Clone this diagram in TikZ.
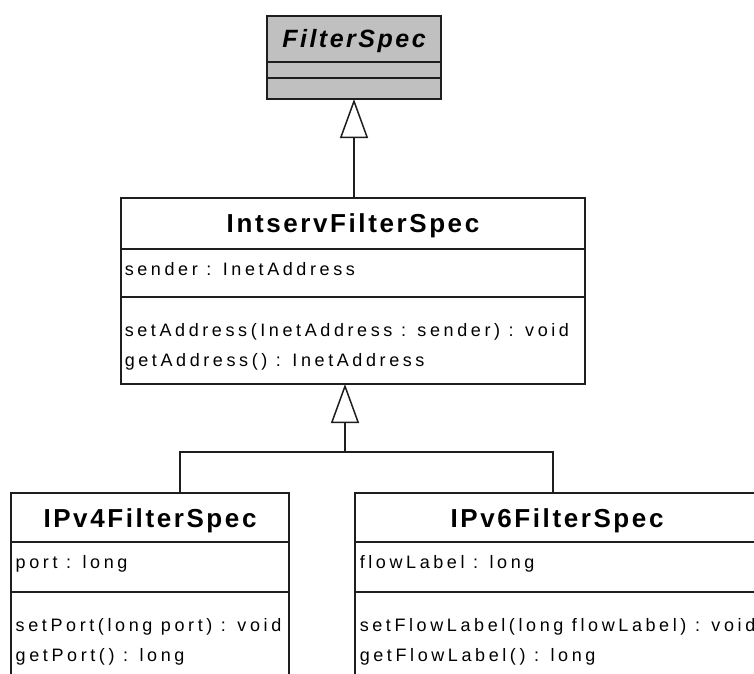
\documentclass[tikz,border=0pt]{standalone}
\usepackage{fontspec}
\setmainfont{Liberation Sans}
\newfontfamily\headfont[LetterSpace=10]{Liberation Sans}
\newfontfamily\bodyfont[LetterSpace=20]{Liberation Sans}
\usetikzlibrary{arrows.meta,calc}
\definecolor{linecol}{HTML}{1E1E1E}
\definecolor{abstractfill}{HTML}{C0C0C0}

\begin{document}
\begin{tikzpicture}[x=1pt,y=-1pt,
  line width=1.5pt,
  classbox/.style={draw=linecol, rectangle, anchor=north west, inner sep=0pt, outer sep=0pt, fill=white},
  classtitle/.style={font=\headfont\bfseries\fontsize{26}{30}\selectfont, anchor=base, inner sep=0pt},
  abstracttitle/.style={font=\headfont\bfseries\itshape\fontsize{25}{30}\selectfont, anchor=base, inner sep=0pt},
  member/.style={font=\bodyfont\fontsize{18}{21}\selectfont, anchor=base west, inner sep=0pt},
  inherit/.style={draw=linecol, -{Triangle[open, length=39pt, width=28pt, fill=white]}},
]
\useasboundingbox (0,0) rectangle (754,673);
\clip (0,0) rectangle (754,673);
\fill[white] (0,0) rectangle (754,673);

% abstract base class
\node[classbox, fill=abstractfill, minimum width=174pt, minimum height=83pt] (filter) at (267,16) {};
\draw[linecol] (267,62) -- (441,62) (267,78) -- (441,78);
\node[abstracttitle] (filtername) at (354,47) {FilterSpec};

% IntservFilterSpec
\node[classbox, minimum width=464pt, minimum height=186pt] (intserv) at (121,198) {};
\draw[linecol] (121,249) -- (585,249) (121,297) -- (585,297);
\node[classtitle] (intservname) at (353,232) {IntservFilterSpec};
\node[member] (intserva) at (124,275) {sender : InetAddress};
\node[member] (intservm1) at (124,336) {setAddress(InetAddress : sender) : void};
\node[member] (intservm2) at (124,366) {getAddress() : InetAddress};

% IPv4FilterSpec
\node[classbox, minimum width=278pt, minimum height=230pt] (ipv4) at (11,493) {};
\draw[linecol] (11,542) -- (289,542) (11,592) -- (289,592);
\node[classtitle] (ipv4name) at (150,527) {IPv4FilterSpec};
\node[member] (ipv4a) at (15,568) {port : long};
\node[member] (ipv4m1) at (15,631) {setPort(long port) : void};
\node[member] (ipv4m2) at (15,661) {getPort() : long};

% IPv6FilterSpec
\node[classbox, minimum width=405pt, minimum height=230pt] (ipv6) at (355,493) {};
\draw[linecol] (355,542) -- (760,542) (355,592) -- (760,592);
\node[classtitle] (ipv6name) at (557,527) {IPv6FilterSpec};
\node[member] (ipv6a) at (359,568) {flowLabel : long};
\node[member] (ipv6m1) at (359,631) {setFlowLabel(long flowLabel) : void};
\node[member] (ipv6m2) at (359,661) {getFlowLabel() : long};

% generalisation arrows
\draw[inherit] (filter.south |- intserv.north) -- (filter.south);
\coordinate (bus) at (345,452);
\coordinate (bus4) at (180,452);
\coordinate (bus6) at (553,452);
\draw[inherit] (bus) -- (bus |- intserv.south);
\draw[linecol] (ipv4.north -| bus4) -- (bus4) -- (bus6) -- (ipv6.north -| bus6);
\end{tikzpicture}
\end{document}
